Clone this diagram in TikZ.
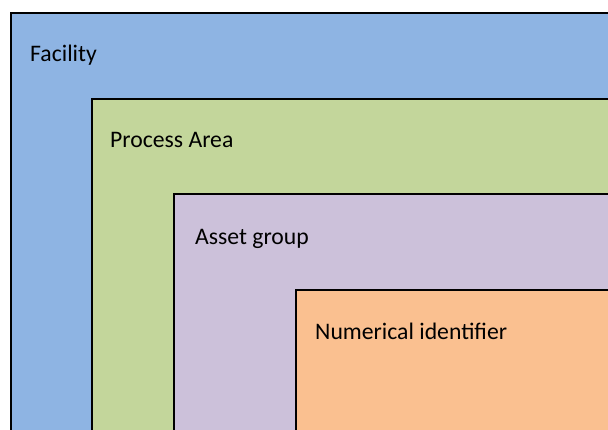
\documentclass[tikz,border=0pt]{standalone}
\usepackage{fontspec}
\setmainfont{Carlito}
\definecolor{cfac}{HTML}{8EB4E3}
\definecolor{cproc}{HTML}{C3D69B}
\definecolor{casset}{HTML}{CCC1DA}
\definecolor{cnum}{HTML}{FAC090}
\tikzset{
  layer/.style={draw=black, line width=2pt},
  lbl/.style={anchor=base west, inner sep=0pt, font=\fontsize{23.7}{28}\selectfont, text=black}
}
\begin{document}
\begin{tikzpicture}[x=1pt,y=-1pt]
\useasboundingbox (0,0) rectangle (608,430);
\clip (0,0) rectangle (608,430);
\fill[white] (0,0) rectangle (608,430);
\draw[layer, fill=cfac] (11,13) rectangle (640,460);
\draw[layer, fill=cproc] (92,99) rectangle (640,460);
\draw[layer, fill=casset] (174,194) rectangle (640,460);
\draw[layer, fill=cnum] (296,290) rectangle (640,460);
\node[lbl] (fac) at (30,62) {Facility};
\node[lbl] (proc) at (110,148) {Process Area};
\node[lbl] (asset) at (195,245) {Asset group};
\node[lbl] (num) at (315,340) {Numerical identifier};
\end{tikzpicture}
\end{document}
